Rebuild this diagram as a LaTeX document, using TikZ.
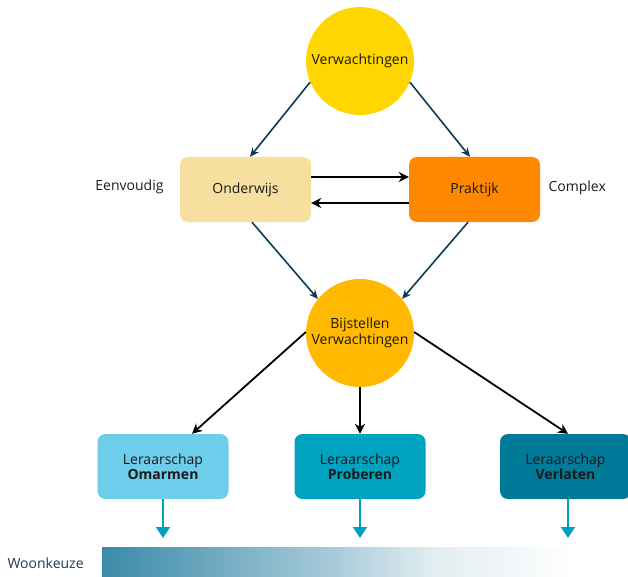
\documentclass[tikz,border=0pt]{standalone}
\usepackage{fontspec}
\setmainfont{Open Sans}
\usetikzlibrary{arrows.meta,positioning}
\definecolor{cgold}{HTML}{FFD600}
\definecolor{cwheat}{HTML}{F7DFA0}
\definecolor{corange}{HTML}{FF8800}
\definecolor{camber}{HTML}{FFB900}
\definecolor{clight}{HTML}{6ECDEA}
\definecolor{cmid}{HTML}{00A3BF}
\definecolor{cdark}{HTML}{007A99}
\definecolor{cnavy}{HTML}{0D3B55}
\definecolor{ccyan}{HTML}{00A0C0}
\definecolor{ctext}{HTML}{1A1A1A}
\definecolor{wtext}{HTML}{1E3A50}
\definecolor{g1}{HTML}{3A8AA8}
\definecolor{g2}{HTML}{ABCDDB}
\definecolor{g3}{HTML}{E2EDF1}
\pgfdeclarehorizontalshading{woon}{100bp}{color(0bp)=(g1); color(25bp)=(g1); color(50bp)=(g2); color(60bp)=(g3); color(75bp)=(white); color(100bp)=(white)}
\tikzset{
  txt/.style={font=\fontsize{14}{16}\selectfont, text=ctext},
  circ/.style={circle, minimum size=108pt, inner sep=0pt, align=center, txt},
  rbox/.style={rounded corners=8pt, minimum width=131pt, minimum height=65pt, inner sep=0pt, align=center, txt},
  navyarrow/.style={draw=cnavy, line width=1.6pt, -{Stealth[open, length=9pt, width=8pt]}},
  blackarrow/.style={draw=black, line width=1.8pt, -{Stealth[length=10pt, width=10pt]}},
  cyanarrow/.style={draw=ccyan, line width=2pt, -{Triangle[length=11pt, width=14pt]}}
}
\begin{document}
\begin{tikzpicture}[x=1pt, y=-1pt]
\useasboundingbox (0,0) rectangle (628,577);
\node[circ, fill=cgold] (v) at (360,61) {Verwachtingen};
\node[rbox, fill=cwheat] (ond) at (245.5,189.5) {Onderwijs};
\node[rbox, fill=corange] (prak) at (474.5,189.5) {Praktijk};
\node[circ, fill=camber] (b) at (360,333) {Bijstellen\\Verwachtingen};
\node[rbox, fill=clight] (om) at (163,466.5) {Leraarschap\\[-1.5pt]\textbf{Omarmen}};
\node[rbox, fill=cmid] (pr) at (360,466.5) {Leraarschap\\[-1.5pt]\textbf{Proberen}};
\node[rbox, fill=cdark] (vl) at (565.5,466.5) {Leraarschap\\[-1.5pt]\textbf{Verlaten}};
\node[txt, anchor=east] (eenv) at (167,187) {Eenvoudig};
\node[txt, anchor=west] (comp) at (545,188) {Complex};
\node[txt, text=wtext, anchor=west] (woon) at (4,563) {Woonkeuze};
\node[shading=woon, minimum width=473pt, minimum height=30pt, inner sep=0pt, anchor=north west] (bar) at (102,547) {};
% navy arrows
\draw[navyarrow] (v.203) -- ([xshift=4.5pt]ond.north);
\draw[navyarrow] (v.337) -- ([xshift=-4.5pt]prak.north);
\draw[navyarrow] ([xshift=6.5pt]ond.south) -- (b.141);
\draw[navyarrow] ([xshift=-6.5pt]prak.south) -- (b.39);
% black arrows
\draw[blackarrow] ([yshift=12.5pt]ond.east) -- ([yshift=12.5pt]prak.west);
\draw[blackarrow] ([yshift=-13.5pt]prak.west) -- ([yshift=-13.5pt]ond.east);
\draw[blackarrow] (b.179) -- ([xshift=29pt]om.north);
\draw[blackarrow] (b.south) -- (pr.north);
\draw[blackarrow] (b.1) -- ([xshift=2.5pt]vl.north);
% cyan arrows
\coordinate (t1) at (163,538);
\coordinate (t2) at (360,538);
\coordinate (t3) at (568,538);
\draw[cyanarrow] (om.south) -- (t1);
\draw[cyanarrow] (pr.south) -- (t2);
\draw[cyanarrow] ([xshift=2.5pt]vl.south) -- (t3);
\end{tikzpicture}
\end{document}
